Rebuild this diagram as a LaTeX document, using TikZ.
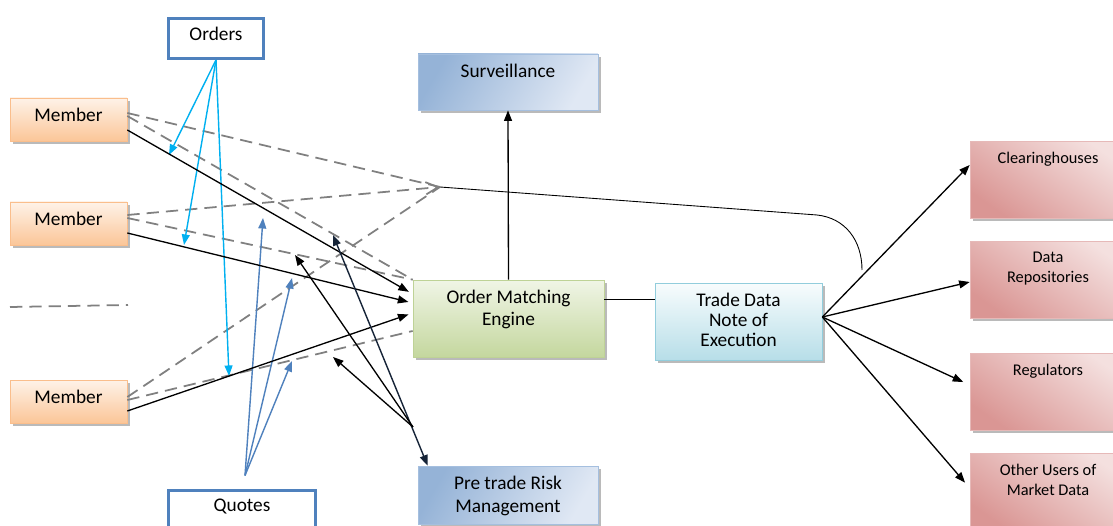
\documentclass[tikz,border=0pt]{standalone}
\usepackage{fontspec}
\setmainfont{Carlito}
\usepackage{tikz}
\usetikzlibrary{arrows.meta,positioning,shadows}
\definecolor{boxblue}{RGB}{79,129,189}
\definecolor{ordercyan}{RGB}{0,176,240}
\definecolor{darknavy}{RGB}{22,36,56}
\definecolor{memberlight}{RGB}{254,242,232}
\definecolor{memberdark}{RGB}{251,198,152}
\definecolor{memberedge}{RGB}{250,190,140}
\definecolor{survdark}{RGB}{149,179,215}
\definecolor{survlight}{RGB}{224,232,244}
\definecolor{survedge}{RGB}{165,191,223}
\definecolor{omelight}{RGB}{240,245,230}
\definecolor{omedark}{RGB}{196,215,158}
\definecolor{omeedge}{RGB}{190,210,150}
\definecolor{tradelight}{RGB}{248,252,253}
\definecolor{tradedark}{RGB}{183,222,232}
\definecolor{tradeedge}{RGB}{146,205,220}
\definecolor{userlight}{RGB}{244,224,223}
\definecolor{userdark}{RGB}{218,150,148}
\definecolor{useredge}{RGB}{230,185,184}
\definecolor{dashgray}{RGB}{128,128,128}

\tikzset{
  box/.style={rectangle, inner sep=0pt,
    drop shadow={shadow xshift=1.6pt, shadow yshift=-1.6pt, fill=black!45, opacity=0.6}},
  boxtext/.style={label={[anchor=north, yshift=-5.6pt, inner sep=0pt, align=center,
    font=\fontsize{11}{12.5}\selectfont]north:#1}},
  usertext/.style={label={[anchor=north, yshift=-6.3pt, inner sep=0pt, align=center,
    font=\fontsize{9.3}{11.3}\selectfont]north:#1}},
  member/.style={box, draw=memberedge, top color=memberlight, bottom color=memberdark,
    minimum width=2.34cm, minimum height=0.86cm},
  srcbox/.style={rectangle, draw=boxblue, line width=1.7pt, fill=white, inner sep=0pt},
  survbox/.style={box, draw=survedge, left color=survdark, right color=survlight,
    shading angle=60, minimum width=3.6cm},
  omebox/.style={box, draw=omeedge, top color=omelight, bottom color=omedark,
    minimum width=3.82cm, minimum height=1.54cm},
  tradebox/.style={box, draw=tradeedge, top color=tradelight, bottom color=tradedark,
    minimum width=3.34cm, minimum height=1.54cm},
  userbox/.style={box, draw=useredge, top color=userlight, bottom color=userdark,
    shading angle=-35, minimum width=3.12cm, minimum height=1.54cm},
  blk/.style={-{Triangle[length=6pt,width=4.5pt]}, line width=0.75pt},
  ordarrow/.style={-{Triangle[length=6pt,width=4.5pt]}, ordercyan, line width=0.8pt},
  quotarrow/.style={-{Triangle[length=6pt,width=4.5pt]}, boxblue, line width=0.8pt},
  dashline/.style={dashgray, line width=1pt, dash pattern=on 7pt off 4pt}
}

\begin{document}
\begin{tikzpicture}[x=0.02cm, y=-0.02cm]
  \path[use as bounding box, fill=white] (0,0) rectangle (1113,526);

  % Boxes
  \node[srcbox, minimum width=1.9cm, minimum height=0.8cm, boxtext=Orders] (orders) at (216,38.5) {};
  \node[srcbox, minimum width=2.94cm, minimum height=0.8cm, boxtext=Quotes] (quotes) at (242,510.5) {};
  \node[member, boxtext=Member] (m1) at (68.5,119.5) {};
  \node[member, boxtext=Member] (m2) at (68.5,223.5) {};
  \node[member, boxtext=Member] (m3) at (68.5,401.5) {};
  \node[survbox, minimum height=1.12cm, boxtext=Surveillance] (surv) at (508,82) {};
  \node[omebox, boxtext={Order Matching\\Engine}] (ome) at (508.5,318.5) {};
  \node[tradebox, boxtext={Trade Data\\[-1pt]Note of\\[-1pt]Execution}] (tde) at (738.5,321.5) {};
  \node[survbox, minimum height=1.16cm, boxtext={Pre trade Risk\\[1pt]Management}] (ptrm) at (508,495) {};
  \node[userbox, usertext=Clearinghouses] (ch) at (1048,179.5) {};
  \node[userbox, usertext={Data\\Repositories}] (dr) at (1048,279.5) {};
  \node[userbox, usertext=Regulators] (reg) at (1048,391.5) {};
  \node[userbox, usertext={Other Users of\\Market Data}] (oth) at (1048,491.5) {};

  % Free ends
  \coordinate (conv) at (440,187);
  \coordinate (bendpt) at (817,215);
  \coordinate (arcend) at (862,270);
  \coordinate (otip1) at (169,155);
  \coordinate (otip2) at (184,245);
  \coordinate (otip3) at (229,376);
  \coordinate (qtip1) at (263,218);
  \coordinate (qtip2) at (292,278);
  \coordinate (qtip3) at (292,361);
  \coordinate (rtip1) at (333,235);
  \coordinate (rtip2) at (295,255);
  \coordinate (rtip3) at (333,357);
  \coordinate (rjoin) at (413,427);

  % Stray dashed line
  \draw[dashline] (10,307) -- (128,305);

  % Dashed links from members
  \draw[dashline] ([yshift=0.13cm]m1.east) -- (conv);
  \draw[dashline] ([yshift=0.07cm]m1.east) -- (ome.north west);
  \draw[dashline, -{Straight Barb[length=7pt,width=7pt]}] ([yshift=0.17cm]m2.east) -- (conv);
  \draw[dashline] ([yshift=0.11cm]m2.east) -- (ome.north west);
  \draw[dashline] ([yshift=0.09cm]m3.east) -- (conv);
  \draw[dashline] ([yshift=0.03cm]m3.east) -- ([yshift=-0.25cm]ome.west);
  \draw[line width=0.5pt] (conv) -- (bendpt) .. controls (845,218) and (862,240) .. (arcend);

  % Orders and quotes
  \foreach \t in {otip1,otip2,otip3}
    \draw[ordarrow] (orders.south) -- (\t);
  \foreach \t in {qtip1,qtip2,qtip3}
    \draw[quotarrow] ([xshift=0.06cm,yshift=0.27cm]quotes.north) -- (\t);

  % Members into the engine
  \draw[blk, shorten >=2.5pt] ([yshift=-0.21cm]m1.east) -- ([yshift=0.49cm]ome.west);
  \draw[blk, shorten >=2.5pt] ([yshift=-0.19cm]m2.east) -- ([yshift=0.31cm]ome.west);
  \draw[blk, shorten >=2.5pt] ([yshift=-0.19cm]m3.east) -- ([yshift=0.11cm]ome.west);

  % Risk management
  \draw[{Triangle[length=6pt,width=4.5pt]}-{Triangle[length=6pt,width=4.5pt]}, darknavy, line width=0.8pt]
    (rtip1) -- ([xshift=0.2cm]ptrm.north west);
  \draw[blk] (rjoin) -- (rtip2);
  \draw[blk] (rjoin) -- (rtip3);

  % Engine outputs
  \draw[blk] (ome.north) -- (surv.south);
  \draw[line width=0.45pt] ([yshift=0.39cm]ome.east) -- ([yshift=0.39cm]ome.east -| tde.west);
  \draw[blk] ([yshift=0.09cm]tde.east) -- ([yshift=0.29cm]ch.west);
  \draw[blk] ([yshift=0.09cm]tde.east) -- ([yshift=-0.05cm]dr.west);
  \draw[blk, shorten >=4pt] ([yshift=0.09cm]tde.east) -- ([yshift=0.13cm]reg.west);
  \draw[blk, shorten >=4pt] ([yshift=0.09cm]tde.east) -- ([yshift=0.07cm]oth.west);
\end{tikzpicture}
\end{document}
